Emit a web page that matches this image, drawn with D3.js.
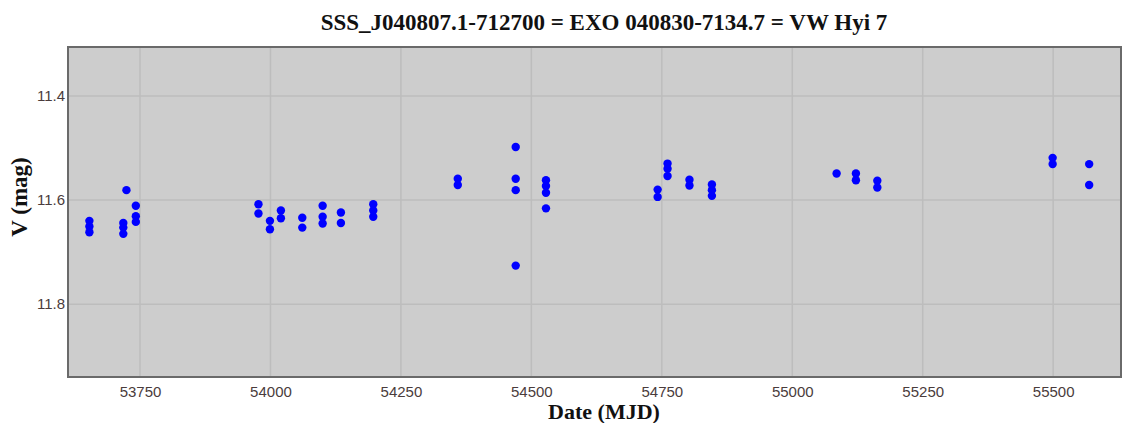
<!DOCTYPE html>
<html>
<head>
<meta charset="utf-8">
<script src="https://cdn.jsdelivr.net/npm/d3@7"></script>
<style>
	body { margin: 0; background: #ffffff; }
	svg { display: block; }
</style>
</head>
<body>
<div id="chart"></div>
<script>
var mjd = [53653, 53653, 53653, 53718, 53718, 53718, 53724, 53742, 53742, 53742,
	53977, 53977, 53999, 53999, 54020, 54020, 54061, 54061, 54100, 54100, 54100,
	54135, 54135, 54197, 54197, 54197, 54359, 54359, 54470, 54470, 54470, 54470,
	54528, 54528, 54528, 54528, 54742, 54742, 54761, 54761, 54761, 54803, 54803,
	54846, 54846, 54846, 55085, 55122, 55122, 55163, 55163, 55499, 55499, 55569, 55569];
var vmag = [11.640, 11.651, 11.662, 11.644, 11.653, 11.665, 11.581, 11.611, 11.631, 11.642,
	11.608, 11.626, 11.640, 11.656, 11.620, 11.635, 11.634, 11.653, 11.611, 11.632, 11.645,
	11.624, 11.644, 11.608, 11.620, 11.632, 11.559, 11.571, 11.498, 11.559, 11.581, 11.726,
	11.562, 11.573, 11.586, 11.616, 11.580, 11.594, 11.530, 11.540, 11.554, 11.561, 11.572,
	11.570, 11.581, 11.592, 11.549, 11.549, 11.562, 11.563, 11.576, 11.519, 11.531, 11.531, 11.571];

var xTicks = [53750, 54000, 54250, 54500, 54750, 55000, 55250, 55500];
var yTicks = [11.4, 11.6, 11.8];

var titleText = "SSS_J040807.1-712700 = EXO 040830-7134.7 = VW Hyi 7";
var xTitle = "Date (MJD)";
var yTitle = "V (mag)";

var width = 1135, height = 423;
// plot box edges (note: "top" is taken by window.top)
var plotL = 68, plotT = 47, plotR = 1121, plotB = 377;

var svg = d3.select("#chart").append("svg")
	.attr("width", width)
	.attr("height", height);

var x = d3.scaleLinear().domain([53612, 55630]).range([plotL, plotR]);
// magnitudes: brighter is up
var y = d3.scaleLinear().domain([11.306, 11.940]).range([plotT, plotB]);

// plot background
svg.append("rect")
	.attr("x", plotL).attr("y", plotT)
	.attr("width", plotR - plotL).attr("height", plotB - plotT)
	.attr("fill", "#cdcdcd");

// grid lines
svg.selectAll(".vgrid").data(xTicks).enter().append("line")
	.attr("x1", d => x(d)).attr("x2", d => x(d))
	.attr("y1", plotT).attr("y2", plotB)
	.attr("stroke", "#bdbdbd").attr("stroke-width", 1.5);
svg.selectAll(".hgrid").data(yTicks).enter().append("line")
	.attr("x1", plotL).attr("x2", plotR)
	.attr("y1", d => y(d)).attr("y2", d => y(d))
	.attr("stroke", "#bdbdbd").attr("stroke-width", 1.5);

// frame
svg.append("rect")
	.attr("x", plotL).attr("y", plotT)
	.attr("width", plotR - plotL).attr("height", plotB - plotT)
	.attr("fill", "none")
	.attr("stroke", "#6a6a6a").attr("stroke-width", 2);

// axes, using d3 axes but hiding domain and tick marks
var xAxis = svg.append("g")
	.attr("transform", "translate(0," + plotB + ")")
	.call(d3.axisBottom(x).tickValues(xTicks).tickFormat(d3.format("d")).tickSize(0).tickPadding(9));
var yAxis = svg.append("g")
	.attr("transform", "translate(" + plotL + ",0)")
	.call(d3.axisLeft(y).tickValues(yTicks).tickFormat(d3.format(".1f")).tickSize(0).tickPadding(3));

[xAxis, yAxis].forEach(function(g) {
	g.select(".domain").remove();
	g.selectAll("text")
		.attr("fill", "#4a3c3c")
		.style("font-family", "Liberation Sans, Arial, sans-serif")
		.style("font-size", "15px");
});

// data points
svg.selectAll(".pt").data(d3.range(mjd.length)).enter().append("circle")
	.attr("cx", i => x(mjd[i]))
	.attr("cy", i => y(vmag[i]))
	.attr("r", 4.2)
	.attr("fill", "#0000ff");

// titles
function boldSerif(sel, size) {
	sel.attr("text-anchor", "middle")
		.style("font-family", "Liberation Serif, Times New Roman, serif")
		.style("font-weight", "bold")
		.style("font-size", size + "px")
		.attr("fill", "#111");
}

svg.append("text")
	.attr("x", 604).attr("y", 30)
	.call(boldSerif, 23)
	.text(titleText);

svg.append("text")
	.attr("x", 604).attr("y", 419)
	.call(boldSerif, 22)
	.text(xTitle);

svg.append("text")
	.attr("transform", "translate(27,197) rotate(-90)")
	.call(boldSerif, 23)
	.text(yTitle);
</script>
</body>
</html>
